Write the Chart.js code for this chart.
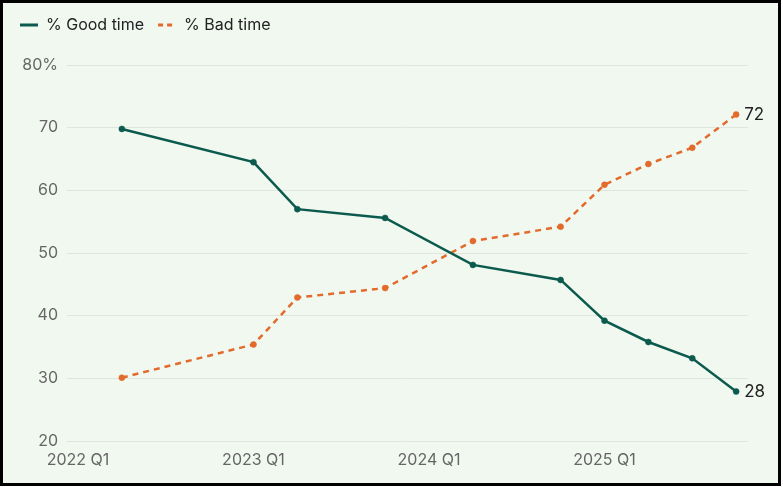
<!DOCTYPE html>
<html>
<head>
<meta charset="utf-8">
<script src="https://cdn.jsdelivr.net/npm/chart.js@4.4.1/dist/chart.umd.min.js"></script>
<style>
  html, body { margin: 0; padding: 0; background: #ffffff; }
  .frame {
    position: absolute; left: 0; top: 0;
    width: 775px; height: 480px;
    border: 3px solid #000;
    background: #f1f8f0;
  }
  .box { position: relative; width: 775px; height: 480px; }
</style>
</head>
<body>
<div class="frame"><div class="box"><canvas id="chart"></canvas></div></div>
<script>
// quarter index: 0 = 2022 Q1
const quarterIdx = [1, 4, 5, 7, 9, 11, 12, 13, 14, 15]
const goodTime = [69.8, 64.5, 57.0, 55.6, 48.1, 45.7, 39.2, 35.8, 33.2, 27.9]
const badTime = [30.1, 35.4, 42.9, 44.4, 51.9, 54.2, 60.9, 64.2, 66.8, 72.1]
const tickIdx = [0, 4, 8, 12]
const tickLabels = ['2022 Q1', '2023 Q1', '2024 Q1', '2025 Q1']
const endLabels = ['28', '72']

const GOOD = '#0b5a4d'
const BAD = '#e26b2c'
const FONT = 'Inter, "Open Sans", sans-serif'
const LEGEND_GAP = 22

const toPoints = vals => vals.map((v, i) => ({ x: quarterIdx[i], y: v }))

// ── End-of-line value labels ─────────────────────────────────────────────────
const endLabelPlugin = {
  id: 'endLabels',
  afterDatasetsDraw(chart) {
    const ctx = chart.ctx
    ctx.save()
    ctx.font = '17px ' + FONT
    ctx.fillStyle = '#222'
    ctx.textBaseline = 'middle'
    chart.data.datasets.forEach((ds, i) => {
      const pts = chart.getDatasetMeta(i).data
      const last = pts[pts.length - 1]
      ctx.fillText(endLabels[i], last.x + 8, last.y)
    })
    ctx.restore()
  }
}

// extra room under the legend
const legendGapPlugin = {
  id: 'legendGap',
  afterInit(chart) {
    const fit = chart.legend.fit
    chart.legend.fit = function () {
      fit.call(this)
      this.height += LEGEND_GAP
    }
  }
}

new Chart(document.getElementById('chart'), {
  type: 'line',
  data: {
    datasets: [
      {
        label: '% Good time',
        data: toPoints(goodTime),
        borderColor: GOOD,
        backgroundColor: GOOD,
        borderWidth: 2.5,
        pointRadius: 3,
        pointBorderWidth: 0.5,
        pointHoverRadius: 3,
        tension: 0
      },
      {
        label: '% Bad time',
        data: toPoints(badTime),
        borderColor: BAD,
        backgroundColor: BAD,
        borderWidth: 2.5,
        borderDash: [6, 5],
        pointRadius: 3,
        pointBorderWidth: 0.5,
        pointHoverRadius: 3,
        tension: 0
      }
    ]
  },
  options: {
    responsive: true,
    maintainAspectRatio: false,
    animation: false,
    layout: { padding: { left: 3, right: 30, top: 0, bottom: 0 } },
    plugins: {
      tooltip: { enabled: false },
      legend: {
        position: 'top',
        align: 'start',
        labels: {
          usePointStyle: true,
          pointStyle: 'line',
          pointStyleWidth: 18,
          color: '#222',
          font: { family: FONT, size: 16 },
          padding: 14,
          boxHeight: 10,
          generateLabels: chart => {
            const items = Chart.defaults.plugins.legend.labels.generateLabels(chart)
            return items.map((item, i) => ({
              ...item,
              pointStyle: 'line',
              lineWidth: 3,
              strokeStyle: chart.data.datasets[i].borderColor,
              lineDash: i === 1 ? [5, 4] : []
            }))
          }
        }
      }
    },
    scales: {
      x: {
        type: 'linear',
        min: -0.25,
        max: 15.27,
        afterBuildTicks: scale => { scale.ticks = tickIdx.map(v => ({ value: v })) },
        afterFit: scale => { scale.height = 42 },
        ticks: {
          callback: v => tickLabels[tickIdx.indexOf(v)],
          color: '#666',
          font: { family: FONT, size: 16 },
          padding: 10,
          maxRotation: 0,
          autoSkip: false
        },
        grid: { display: false, drawTicks: false },
        border: { display: false }
      },
      y: {
        min: 20,
        max: 80,
        afterFit: scale => { scale.width = 61 },
        ticks: {
          stepSize: 10,
          callback: v => v === 80 ? '80%' : v,
          color: '#666',
          font: { family: FONT, size: 16 },
          padding: 9
        },
        grid: { color: '#dfe6dd', drawTicks: false },
        border: { display: false }
      }
    }
  },
  plugins: [endLabelPlugin, legendGapPlugin]
})
</script>
</body>
</html>
